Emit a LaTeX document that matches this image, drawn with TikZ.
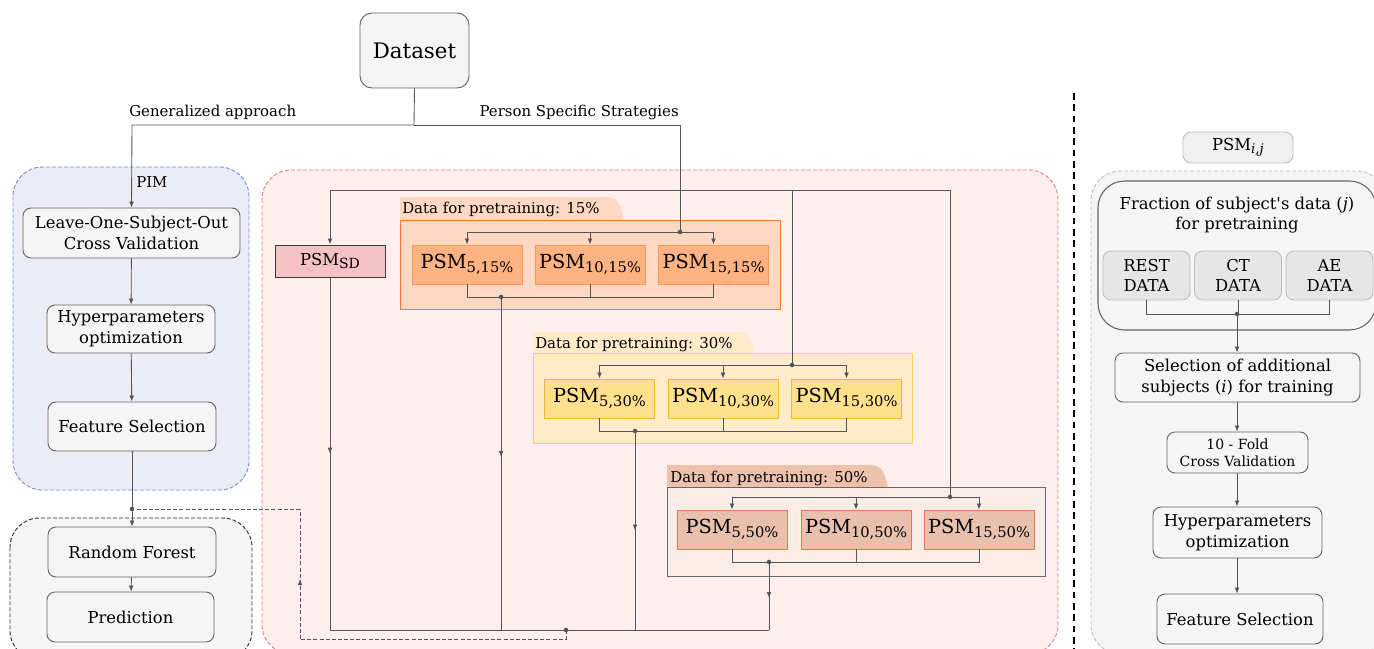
\documentclass[tikz,border=0pt]{standalone}
\usepackage{fontspec}
\setmainfont{DejaVu Serif}
\newfontfamily\plainserif{DejaVu Serif}[Ligatures=TeXOff]
\usetikzlibrary{arrows.meta,decorations.markings}

% palette
\definecolor{linegray}{RGB}{85,85,85}
\definecolor{boxedge}{RGB}{100,100,100}
\definecolor{boxfill}{RGB}{245,245,245}
\definecolor{pimfill}{RGB}{236,236,246}
\definecolor{pimedge}{RGB}{125,140,212}
\definecolor{psfill}{RGB}{254,238,238}
\definecolor{psedge}{RGB}{236,128,128}
\definecolor{rfedge}{RGB}{50,50,50}
\definecolor{rightedge}{RGB}{190,190,190}
\definecolor{sdfill}{RGB}{244,194,194}
\definecolor{sdedge}{RGB}{60,60,60}
\definecolor{aframe}{RGB}{253,217,195}
\definecolor{aedge}{RGB}{242,122,45}
\definecolor{ainner}{RGB}{255,178,130}
\definecolor{ainedge}{RGB}{250,150,90}
\definecolor{bframe}{RGB}{255,234,202}
\definecolor{bedge}{RGB}{255,213,79}
\definecolor{binner}{RGB}{255,224,140}
\definecolor{binedge}{RGB}{245,180,60}
\definecolor{cframe}{RGB}{249,235,230}
\definecolor{cedge}{RGB}{105,105,105}
\definecolor{ctab}{RGB}{236,194,172}
\definecolor{cinner}{RGB}{232,192,172}
\definecolor{cinedge}{RGB}{215,125,80}
\definecolor{datafill}{RGB}{230,230,230}
\definecolor{ijfill}{RGB}{240,240,240}

% type sizes
\newcommand{\fsMain}{\fontsize{12.3}{15.5}\selectfont}
\newcommand{\fsLab}{\fontsize{11.2}{13}\selectfont}
\newcommand{\fsBig}{\fontsize{16}{18}\selectfont}
\newcommand{\fsSmall}{\fontsize{10.5}{12.5}\selectfont}
\newcommand{\fsPsm}{\fontsize{14.5}{16}\selectfont}
\newcommand{\psmlab}[1]{PSM\raisebox{-0.35ex}{\fontsize{11}{11}\selectfont #1}}

\tikzset{
  wh/.style 2 args={minimum width={#1*0.75pt}, minimum height={#2*0.75pt}},
  conn/.style={draw=linegray, line width=0.65pt},
  arr/.style={conn, -{Latex[length=4.5pt,width=3.6pt]}},
  midarrow/.style={postaction={decorate}, decoration={markings,
      mark=at position #1 with {\arrow{Latex[length=4.5pt,width=3.6pt]}}}},
  gbox/.style={draw=boxedge, fill=boxfill, line width=0.7pt, rounded corners=6pt,
      inner sep=0pt, align=center, font=\fsMain},
  databox/.style={draw=rightedge, fill=datafill, line width=0.7pt, rounded corners=6pt,
      inner sep=0pt, align=center, font=\fsMain, wh={87}{49}},
  psmA/.style={draw=ainedge, fill=ainner, line width=0.7pt, inner sep=0pt, font=\fsPsm, wh={110}{39}},
  psmB/.style={draw=binedge, fill=binner, line width=0.7pt, inner sep=0pt, font=\fsPsm, wh={110}{39}},
  psmC/.style={draw=cinedge, fill=cinner, line width=0.7pt, inner sep=0pt, font=\fsPsm, wh={110}{39}},
  tablabel/.style={anchor=base west, inner sep=0pt, font=\fsLab},
  container/.style={line width=0.7pt, dash pattern=on 3pt off 1.5pt, rounded corners=22pt},
  feedback/.style={conn, dash pattern=on 3pt off 1.6pt},
}

\begin{document}
\begin{tikzpicture}[x=0.75pt,y=-0.75pt]
\useasboundingbox (0,0) rectangle (1374,649);
\clip (0,0) rectangle (1374,649);

% ---------- containers ----------
\draw[container, draw=pimedge, fill=pimfill] (13,167) rectangle (249,490);
\draw[container, draw=rfedge, fill=boxfill] (10,518) rectangle (252,660);
\draw[container, draw=psedge, fill=psfill] (262,170) rectangle (1058,654);
\draw[container, draw=rightedge, fill=boxfill] (1091,171) rectangle (1386,654);
\draw[draw=boxedge, fill=boxfill, line width=0.8pt, rounded corners=20pt] (1098,181) rectangle (1376,330);

% separator
\draw[black, line width=0.8pt, dash pattern=on 5pt off 3.5pt] (1074,93) -- (1074,649);

% ---------- pretraining groups: frames and tabs ----------
\fill[aframe] (400,221) -- (400,197) -- (606,197) .. controls (619,197) and (621,206) .. (624,221) -- cycle;
\draw[draw=aedge, fill=aframe, line width=0.75pt] (400,220) rectangle (780,309);
\node[tablabel] at (402,214) {Data for pretraining: 15\%};

\fill[bframe] (533,354) -- (533,332) -- (737,332) .. controls (750,332) and (752,341) .. (755,354) -- cycle;
\draw[draw=bedge, fill=bframe, line width=0.75pt] (533,353) rectangle (912,443);
\node[tablabel] at (535,348) {Data for pretraining: 30\%};

\fill[ctab] (667,488) -- (667,465) -- (870,465) .. controls (883,465) and (885,474) .. (888,488) -- cycle;
\draw[draw=cedge, fill=cframe, line width=0.65pt] (667,487) rectangle (1045,576);
\node[tablabel] at (670,482) {Data for pretraining: 50\%};

% ---------- nodes ----------
\node[gbox, rounded corners=9pt, font=\fsBig, wh={109}{75}] (ds) at (414.5,50.5) {Dataset};

\node[gbox, wh={217}{50}] (loso) at (131.5,233) {Leave-One-Subject-Out\\Cross Validation};
\node[gbox, wh={168}{48}] (hyp) at (131,329) {Hyperparameters\\optimization};
\node[gbox, wh={168}{49}] (fs) at (132,426.5) {Feature Selection};
\node[gbox, wh={168}{50}] (rf) at (132,552) {Random Forest};
\node[gbox, wh={167}{50}] (pred) at (130.5,617) {Prediction};

\node[draw=sdedge, fill=sdfill, line width=0.7pt, inner sep=0pt, font=\fsMain, wh={110}{32}]
      (sd) at (330,261) {PSM\raisebox{-0.45ex}{\fontsize{10.5}{10.5}\selectfont SD}};

\node[psmA] (a1) at (467,264.5) {\psmlab{5,15\%}};
\node[psmA] (a2) at (590,264.5) {\psmlab{10,15\%}};
\node[psmA] (a3) at (713.5,264.5) {\psmlab{15,15\%}};

\node[psmB] (b1) at (599.5,398.5) {\psmlab{5,30\%}};
\node[psmB] (b2) at (723,398.5) {\psmlab{10,30\%}};
\node[psmB] (b3) at (846.5,398.5) {\psmlab{15,30\%}};

\node[psmC] (c1) at (732,529.5) {\psmlab{5,50\%}};
\node[psmC] (c2) at (856,529.5) {\psmlab{10,50\%}};
\node[psmC] (c3) at (979,529.5) {\psmlab{15,50\%}};

\node[draw=rightedge, fill=ijfill, line width=0.7pt, rounded corners=6pt,
      inner sep=0pt, font=\fsMain, wh={110}{31}] (psmij) at (1238,147.5)
      {PSM\raisebox{-0.4ex}{\fontsize{10}{10}\selectfont\itshape i,j}};

\node[font=\fsMain, align=center] (frac) at (1237,215)
      {Fraction of subject{\plainserif\symbol{39}}s data (\textit{j})\\for pretraining};
\node[databox] (rest) at (1146.5,275.5) {REST\\DATA};
\node[databox] (ct) at (1238,275.5) {CT\\DATA};
\node[databox] (ae) at (1329.5,275.5) {AE\\DATA};

\node[gbox, wh={245}{49}] (sel) at (1237.5,377.5) {Selection of additional\\subjects (\textit{i}) for training};
\node[gbox, font=\fsSmall, wh={141}{41}] (tenf) at (1237.5,452.5) {10 - Fold\\Cross Validation};
\node[gbox, wh={169}{51}] (hyp2) at (1237.5,532.5) {Hyperparameters\\optimization};
\node[gbox, wh={166}{50}] (fs2) at (1240,619) {Feature Selection};

% ---------- junction points ----------
\coordinate (split) at (414,125);
\coordinate (gen) at (132,125);
\coordinate (pss) at (680,125);
\coordinate (pimdot) at (132,509);
\coordinate (a_in) at (680,232);
\coordinate (a_out) at (501,297);
\coordinate (b_in) at (792,365);
\coordinate (b_out) at (635,431);
\coordinate (c_in) at (950,497);
\coordinate (c_out) at (769,562);
\coordinate (barL) at (330,190);
\coordinate (barR) at (950,190);
\coordinate (collect) at (566,630);
\coordinate (r_out) at (1237,314);

% ---------- connectors: top split ----------
\draw[conn] (ds.south) -- (split);
\draw[arr] (split) -- (gen) -- (loso.north);
\draw[conn] (split) -- (pss) -- (a_in);
\node[anchor=south west, inner sep=0pt, font=\fsLab] at (129,120) {Generalized approach};
\node[anchor=south east, inner sep=0pt, font=\fsLab] at (679,120) {Person Specific Strategies};
\node[anchor=west, inner sep=0pt, font=\fsLab] (pim) at (136,182) {PIM};

% generalized chain
\draw[arr] (loso) -- (hyp);
\draw[arr] (hyp) -- (fs);
\draw[arr] (fs) -- (rf);
\draw[arr] (rf) -- (pred);

% person specific distribution bar
\draw[conn] (barL) -- (barR);
\draw[arr] (barL) -- (sd.north);
\draw[conn] (b_in |- barL) -- (b_in);
\draw[conn] (barR) -- (c_in);

% 15% group
\draw[conn] (a1.north |- a_in) -- (a3.north |- a_in);
\draw[arr] (a1.north |- a_in) -- (a1.north);
\draw[arr] (a2.north |- a_in) -- (a2.north);
\draw[arr] (a3.north |- a_in) -- (a3.north);
\draw[conn] (a1.south) -- (a1.south |- a_out) -- (a3.south |- a_out) -- (a3.south);
\draw[conn] (a2.south) -- (a2.south |- a_out);

% 30% group
\draw[conn] (b1.north |- b_in) -- (b3.north |- b_in);
\draw[arr] (b1.north |- b_in) -- (b1.north);
\draw[arr] (b2.north |- b_in) -- (b2.north);
\draw[arr] (b3.north |- b_in) -- (b3.north);
\draw[conn] (b1.south) -- (b1.south |- b_out) -- (b3.south |- b_out) -- (b3.south);
\draw[conn] (b2.south) -- (b2.south |- b_out);

% 50% group
\draw[conn] (c1.north |- c_in) -- (c3.north |- c_in);
\draw[arr] (c1.north |- c_in) -- (c1.north);
\draw[arr] (c2.north |- c_in) -- (c2.north);
\draw[arr] (c3.north |- c_in) -- (c3.north);
\draw[conn] (c1.south) -- (c1.south |- c_out) -- (c3.south |- c_out) -- (c3.south);
\draw[conn] (c2.south) -- (c2.south |- c_out);

% outputs gathered on the bottom bar
\draw[conn, midarrow=0.5] (sd.south) -- (sd.south |- collect);
\draw[conn, midarrow=0.48] (a_out) -- (a_out |- collect);
\draw[conn, midarrow=0.5] (b_out) -- (b_out |- collect);
\draw[conn, midarrow=0.53] (c_out) -- (c_out |- collect);
\draw[conn] (sd.south |- collect) -- (c_out |- collect);

% results routed back to the classifier
\coordinate (dA) at (566,639);
\coordinate (dB) at (300,639);
\coordinate (dC) at (300,509);
\draw[feedback] (collect) -- (dA) -- (dB);
\draw[feedback, midarrow=0.46] (dB) -- (dC);
\draw[feedback] (dC) -- (pimdot);

% right-hand pipeline
\draw[conn] (rest.south) -- (rest.south |- r_out) -- (ae.south |- r_out) -- (ae.south);
\draw[conn] (ct.south) -- (ct.south |- r_out);
\draw[arr] (r_out) -- (sel.north -| r_out);
\draw[arr] (sel.south -| r_out) -- (tenf.north -| r_out);
\draw[arr] (tenf.south -| r_out) -- (hyp2.north -| r_out);
\draw[arr] (hyp2.south -| r_out) -- (fs2.north -| r_out);

% junction dots
\foreach \p in {pimdot,a_in,a_out,b_in,b_out,c_in,c_out,collect,r_out}
  \fill[linegray] (\p) circle[radius=1.7pt];
\end{tikzpicture}
\end{document}
